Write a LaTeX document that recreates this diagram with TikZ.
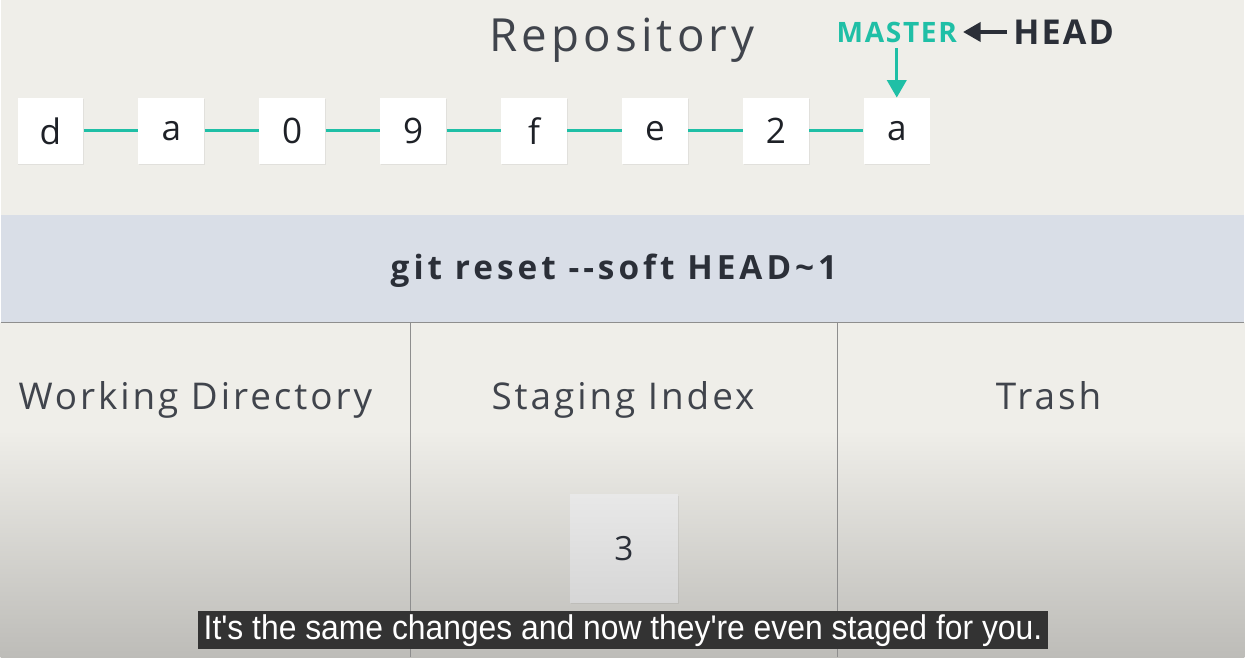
\documentclass[tikz,border=0pt]{standalone}
\usepackage{fontspec}
\setmainfont{Open Sans}
\newfontfamily\spaced{Open Sans}[LetterSpace=8]
\newfontfamily\spacedr{Open Sans}[LetterSpace=9]
\newfontfamily\spacedb{Open Sans}[LetterSpace=6]
\newfontfamily\spacedc{Open Sans}[LetterSpace=12]
\newfontfamily\subfont{Liberation Sans}[FakeStretch=0.93]
\usetikzlibrary{shadows,arrows.meta}
\definecolor{bg}{HTML}{EFEEE9}
\definecolor{band}{HTML}{D9DEE7}
\definecolor{tealc}{HTML}{1FBFA6}
\definecolor{ink}{HTML}{2B2F38}
\definecolor{bot}{HTML}{BDBCB8}
\definecolor{divider}{HTML}{8E8E8E}
\pgfdeclareverticalshading{bottomfade}{100bp}{color(0bp)=(bot); color(25bp)=(bot); color(59bp)=(bg); color(100bp)=(bg)}
\begin{document}
\begin{tikzpicture}[x=0.02cm,y=-0.02cm,
  commit/.style={fill=white,minimum size=1.32cm,inner sep=0pt,
    font=\fontsize{20}{20}\selectfont,text=ink!70!black,
    drop shadow={opacity=0.12,shadow xshift=0.4pt,shadow yshift=-0.6pt}},
  link/.style={draw=tealc,line width=1.6pt},
  title/.style={font=\spaced\fontsize{21}{21}\selectfont,text=ink!90,anchor=base},
  divline/.style={draw=divider,line width=0.6pt}]
% background
\fill[bg] (0,0) rectangle (1245,658);
\shade[shading=bottomfade] (0,323) rectangle (1245,658);
\fill[band] (0,215) rectangle (1245,323);
\draw[divline] (0,323) -- (1245,323);
\draw[divline] (410,323) -- (410,658);
\draw[divline] (838,323) -- (838,658);
% repository
\node[title,font=\spacedr\fontsize{26}{26}\selectfont] (repo) at (622,52) {Repository};
\foreach \i/\t in {1/d,2/a,3/0,4/9,5/f,6/e,7/2,8/a}{
  \node[commit] (c\i) at ({50+121*(\i-1)},131) {\t};
}
\foreach \i [evaluate=\i as \j using int(\i+1)] in {1,...,7}{
  \draw[link] (c\i) -- (c\j);
}
\node[font=\spacedb\bfseries\fontsize{16}{16}\selectfont,text=tealc] (master) at (897,32) {MASTER};
\node[font=\spacedb\bfseries\fontsize{19.5}{19.5}\selectfont,text=ink] (head) at (1064,32) {HEAD};
\draw[ink,line width=1.8pt,-{Triangle[width=11pt,length=10pt]}] (head.west) -- (master.east);
\draw[tealc,line width=1.8pt,-{Triangle[width=11pt,length=10pt]}] (master.south) -- (c8.north);
% command band
\node[font=\spacedc\bfseries\fontsize{19}{19}\selectfont,text=ink] (cmd) at (614,271) {git reset -{}-soft HEAD\textasciitilde1};
% columns
\node[title] (wd) at (195,410) {Working Directory};
\node[title] (si) at (623,410) {Staging Index};
\node[title] (tr) at (1049,410) {Trash};
\node[minimum size=2.16cm,inner sep=0pt,top color=black!9,bottom color=black!16,
  font=\fontsize{19}{19}\selectfont,text=ink,
  drop shadow={opacity=0.15,shadow xshift=0.4pt,shadow yshift=-0.6pt}] (s3) at (624,549) {3};
% subtitle
\node[fill=black!80,text=white,minimum width=17cm,minimum height=0.76cm,inner sep=0pt,
  font=\subfont\fontsize{19.5}{19.5}\selectfont] (caption) at (623,631) {It's the same changes and now they're even staged for you.};
\end{tikzpicture}
\end{document}
